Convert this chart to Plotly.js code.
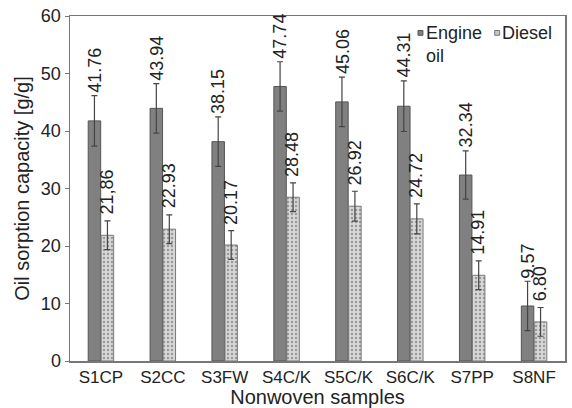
<!DOCTYPE html>
<html>
<head>
<meta charset="utf-8">
<script src="https://cdn.plot.ly/plotly-3.0.1.min.js"></script>
<style>html,body{margin:0;padding:0;background:#fff;}#chart{width:572px;height:408px;}</style>
</head>
<body>
<div id="chart"></div>
<script>
const categories = ["S1CP","S2CC","S3FW","S4C/K","S5C/K","S6C/K","S7PP","S8NF"];
const engineOil = [41.76,43.94,38.15,47.74,45.06,44.31,32.34,9.57];
const engineErr = [4.4,4.3,4.3,4.3,4.3,4.4,4.2,4.3];
const engineLabels = ["41.76","43.94","38.15","47.74","45.06","44.31","32.34","9.57"];
const diesel = [21.86,22.93,20.17,28.48,26.92,24.72,14.91,6.80];
const dieselErr = [2.5,2.5,2.5,2.5,2.6,2.6,2.5,2.5];
const dieselLabels = ["21,86","22.93","20.17","28.48","26.92","24.72","14.91","6.80"];
const seriesNames = ["Engine<br>oil", "Diesel"];

const FONT = "Liberation Sans, Arial, sans-serif";
const engineMarker = {color: "#808080", line: {color: "#555555", width: 1}};
const dieselMarker = {color: "#cfcfcf", line: {color: "#7a7a7a", width: 1},
  pattern: {shape: ".", fgcolor: "#9a9a9a", bgcolor: "#d8d8d8", size: 4, solidity: 0.3}};

const traces = [
  {
    type: "bar", name: seriesNames[0], x: categories, y: engineOil, marker: engineMarker, showlegend: false,
    error_y: {type: "data", array: engineErr, visible: true, color: "#444444", thickness: 1.2, width: 3}
  },
  {
    type: "bar", name: seriesNames[1], x: categories, y: diesel, marker: dieselMarker, showlegend: false,
    error_y: {type: "data", array: dieselErr, visible: true, color: "#444444", thickness: 1.2, width: 3}
  }
];

const annotations = [];
categories.forEach((c, i) => {
  annotations.push({x: i - 0.1, y: engineOil[i] + engineErr[i], xref: "x", yref: "y",
    text: engineLabels[i], textangle: -90, showarrow: false, yanchor: "bottom", xanchor: "center",
    yshift: 1, font: {family: FONT, size: 18, color: "#222"}});
  annotations.push({x: i + 0.1, y: diesel[i] + dieselErr[i], xref: "x", yref: "y",
    text: dieselLabels[i], textangle: -90, showarrow: false, yanchor: "bottom", xanchor: "center",
    yshift: 4, font: {family: FONT, size: 18, color: "#222"}});
});
// legend entries (drawn as text + small swatches, like the reference's compact legend)
annotations.push({x: 0.716, y: 0.985, xref: "paper", yref: "paper", text: seriesNames[0], align: "left",
  showarrow: false, xanchor: "left", yanchor: "top", font: {family: FONT, size: 18, color: "#222"}});
annotations.push({x: 0.869, y: 0.985, xref: "paper", yref: "paper", text: seriesNames[1], align: "left",
  showarrow: false, xanchor: "left", yanchor: "top", font: {family: FONT, size: 18, color: "#222"}});
const shapes = [
  {type: "rect", xref: "paper", yref: "paper", x0: 0.703, x1: 0.713, y0: 0.944, y1: 0.958,
   fillcolor: "#808080", line: {color: "#555", width: 1}},
  {type: "rect", xref: "paper", yref: "paper", x0: 0.858, x1: 0.868, y0: 0.944, y1: 0.958,
   fillcolor: "#c4c4c4", line: {color: "#777", width: 1}}
];

const layout = {
  width: 572, height: 408,
  margin: {l: 70, r: 7, t: 16, b: 47},
  paper_bgcolor: "#fff", plot_bgcolor: "#fff",
  font: {family: FONT, size: 18, color: "#222"},
  barmode: "group", bargap: 0.58, bargroupgap: 0.04,
  showlegend: false,
  xaxis: {
    type: "category", showline: true, linecolor: "#777", linewidth: 1.5, mirror: true,
    ticks: "", showgrid: false, tickfont: {family: FONT, size: 17, color: "#222"},
    title: {text: "Nonwoven samples", font: {family: FONT, size: 20, color: "#222"}, standoff: 2}
  },
  yaxis: {
    range: [0, 60], dtick: 10, showline: true, linecolor: "#777", linewidth: 1.5, mirror: true,
    ticks: "outside", ticklen: 4, tickcolor: "#777", showgrid: false, zeroline: false,
    tickfont: {family: FONT, size: 18, color: "#222"},
    title: {text: "Oil sorption capacity [g/g]", font: {family: FONT, size: 20, color: "#222"}, standoff: 6}
  },
  annotations: annotations,
  shapes: shapes
};

Plotly.newPlot("chart", traces, layout, {displayModeBar: false, staticPlot: true});
</script>
</body>
</html>
